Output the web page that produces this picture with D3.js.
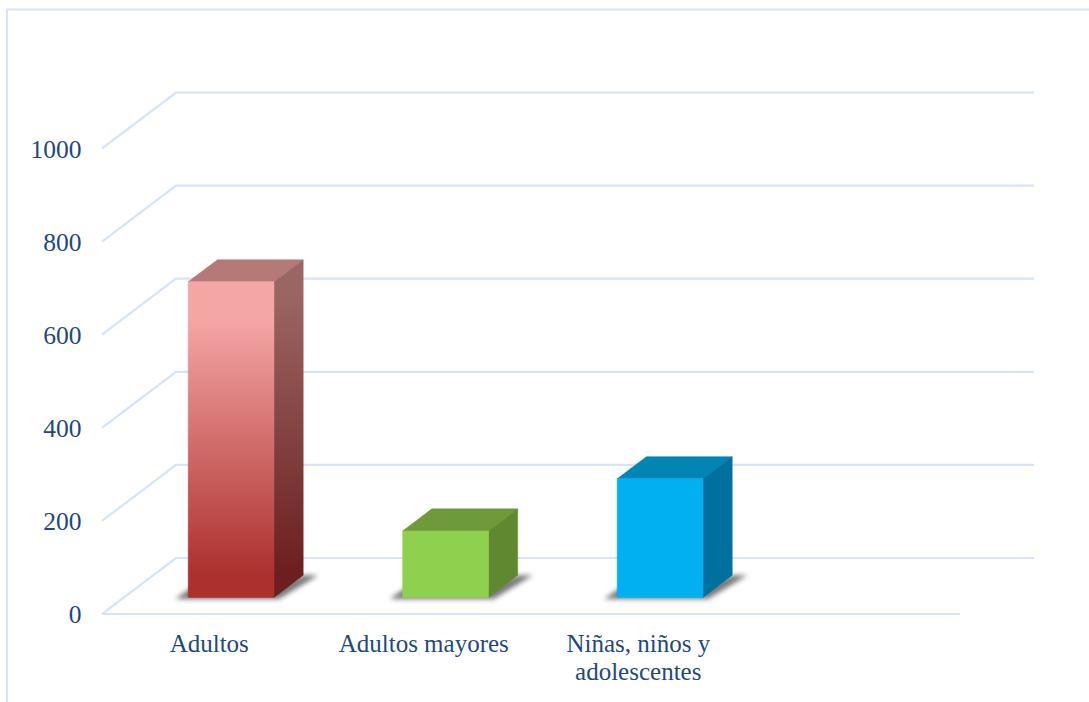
<!DOCTYPE html>
<html><head><meta charset="utf-8">
<script src="https://cdn.jsdelivr.net/npm/d3@7"></script>
<style>html,body{margin:0;padding:0;background:#fff}svg{display:block}text{font-family:"Liberation Serif",serif;fill:#1f497d}</style>
</head><body><div id="c"></div>
<script>
const categories = ["Adultos", "Adultos mayores", "Niñas, niños y|adolescentes", " "];
const values = [678, 143, 255];
const yTicks = [0, 200, 400, 600, 800, 1000];
const frontColors = [["#f4a6a5", "#ab302e"], ["#8fd14f", "#8fd14f"], ["#00b0f0", "#00b0f0"]];
const topColors = ["#b57a77", "#6e9a3a", "#0085b5"];
const sideColors = [["#9a6664", "#6b1f1e"], ["#5f8830", "#5f8830"], ["#00709e", "#00709e"]];

const W = 1089, H = 702, gridColor = "#d6e4f5";
const svg = d3.select("#c").append("svg").attr("width", W).attr("height", H);
const defs = svg.append("defs");
const x = d3.scaleBand().domain(categories).range([102, 960]).paddingInner(0.6).paddingOuter(0.3);
const y = d3.scaleLinear().domain([0, 1000]).range([614, 148.5]);
const depthX = d3.scaleLinear().domain([0, 1]).range([0, 74]);
const depthY = d3.scaleLinear().domain([0, 1]).range([0, 56]);
const P = (px, v, d) => [px + depthX(d), y(v) - depthY(d)];
const line = d3.line();

defs.append("filter").attr("id", "blur").attr("x", "-20%").attr("y", "-40%").attr("width", "140%").attr("height", "180%")
  .append("feGaussianBlur").attr("stdDeviation", 2.6);
const grad = (id, c, o1) => {
  const g = defs.append("linearGradient").attr("id", id).attr("x1", 0).attr("y1", 0).attr("x2", 0).attr("y2", 1);
  g.append("stop").attr("offset", o1).attr("stop-color", c[0]);
  g.append("stop").attr("offset", 0.93).attr("stop-color", c[1]);
};

// frame
svg.append("path").attr("d", line([[7, H], [7, 9.5], [W, 9.5]])).attr("fill", "none").attr("stroke", gridColor).attr("stroke-width", 2);

// grid
const g = svg.append("g").attr("fill", "none").attr("stroke", gridColor).attr("stroke-width", 2.2);
yTicks.forEach(t => {
  const a = P(x.range()[0], t, 0), b = P(x.range()[0], t, 1), c = P(x.range()[1], t, 1);
  g.append("path").attr("d", line([a, b, c]));
});
g.append("path").attr("d", line([P(x.range()[0], 0, 0), P(x.range()[1], 0, 0)]));

// bars
const d0 = 0.295, d1 = 0.69;
values.forEach((v, i) => {
  const l = x(categories[i]), r = l + x.bandwidth();
  grad("f" + i, frontColors[i], 0.12);
  grad("s" + i, sideColors[i], 0.1);
  const poly = (pts, fill) => svg.append("path").attr("d", line(pts) + "Z").attr("fill", fill).attr("stroke", fill).attr("stroke-width", 0.5);
  // floor shadow
  const fl = P(l, 0, d0), fr = P(r, 0, d0), br = P(r, 0, d1);
  svg.append("path").attr("d", line([[fl[0] - 13, fl[1] + 1.5], [fl[0] + 2, fl[1] - 9], [fr[0], fr[1] - 9],
      br, [br[0] + 15, br[1]], [fr[0] + 5, fr[1] + 1.5]]) + "Z")
    .attr("fill", "#555").attr("opacity", 0.8).attr("filter", "url(#blur)");
  poly([P(l, v, d0), P(r, v, d0), P(r, v, d1), P(l, v, d1)], topColors[i]);
  poly([P(r, v, d0), P(r, v, d1), P(r, 0, d1), P(r, 0, d0)], `url(#s${i})`);
  poly([P(l, v, d0), P(r, v, d0), P(r, 0, d0), P(l, 0, d0)], `url(#f${i})`);
});

// y labels
svg.selectAll(".yl").data(yTicks).join("text").attr("class", "yl")
  .attr("x", 81.5).attr("y", d => y(d) + 9).attr("text-anchor", "end").attr("font-size", 25.5).text(d => d);

// x labels
categories.forEach(c => {
  const cx = x(c) + x.bandwidth() / 2;
  c.split("|").forEach((t, k) => {
    svg.append("text").attr("x", cx).attr("y", 652 + k * 28).attr("text-anchor", "middle").attr("font-size", 25).text(t);
  });
});
</script></body></html>
